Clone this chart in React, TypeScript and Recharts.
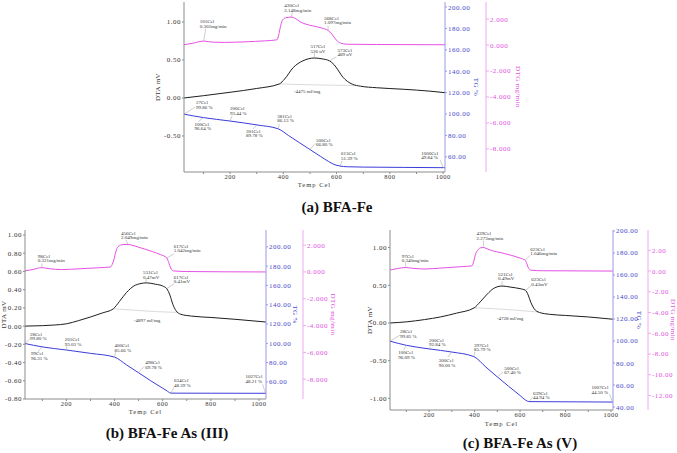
import { ComposedChart, Line, XAxis, YAxis, ReferenceDot, Label } from "recharts";

type Pt = [number, number];
type Note = { s: "dta" | "dtg" | "tg"; t: number; v: number; text: string[] };

// (a) BFA-Fe
const feDta: Pt[] = [[27, 0], [100, 0.03], [200, 0.075], [300, 0.125], [385, 0.185], [405, 0.25], [437, 0.4], [474, 0.49], [517, 0.526], [545, 0.515], [573, 0.489], [590, 0.44], [605, 0.37], [620, 0.29], [640, 0.22], [660, 0.18], [690, 0.155], [750, 0.135], [850, 0.115], [950, 0.09], [1007, 0.07]];
const feBase: Pt[] = [[385, 0.185], [480, 0.175], [580, 0.168], [675, 0.165]];
const feDtg: Pt[] = [[27, 0.02], [60, 0.14], [101, 0.302], [135, 0.22], [180, 0.2], [260, 0.25], [330, 0.32], [376, 0.4], [383, 0.8], [390, 1.5], [398, 1.95], [410, 2.1], [430, 2.148], [445, 2.05], [463, 1.79], [485, 1.6], [513, 1.46], [545, 1.3], [568, 1.12], [582, 0.85], [598, 0.4], [615, 0.15], [640, 0.06], [750, 0.04], [1007, 0.02]];
const feTg: Pt[] = [[27, 99.86], [100, 96.64], [200, 93.44], [301, 89.78], [381, 86.13], [420, 79.8], [460, 73.3], [500, 66.8], [540, 60.3], [570, 55.6], [590, 52.9], [613, 51.39], [640, 50.7], [700, 50.4], [850, 50.1], [1000, 49.84], [1007, 49.82]];
const feNotes: Note[] = [
  { s: "dtg", t: 101, v: 0.302, text: ["101Cel", "0.302mg/min"] },
  { s: "dtg", t: 430, v: 2.148, text: ["430Cel", "2.148mg/min"] },
  { s: "dtg", t: 568, v: 1.097, text: ["568Cel", "1.097mg/min"] },
  { s: "dta", t: 517, v: 0.526, text: ["517Cel", "526 uV"] },
  { s: "dta", t: 573, v: 0.489, text: ["573Cel", "489 uV"] },
  { s: "tg", t: 27, v: 99.86, text: ["27Cel", "99.86 %"] },
  { s: "tg", t: 100, v: 96.64, text: ["100Cel", "96.64 %"] },
  { s: "tg", t: 200, v: 93.44, text: ["200Cel", "93.44 %"] },
  { s: "tg", t: 301, v: 89.78, text: ["301Cel", "89.78 %"] },
  { s: "tg", t: 381, v: 86.13, text: ["381Cel", "86.13 %"] },
  { s: "tg", t: 500, v: 66.8, text: ["500Cel", "66.80 %"] },
  { s: "tg", t: 613, v: 51.39, text: ["613Cel", "51.39 %"] },
  { s: "tg", t: 1000, v: 49.84, text: ["1000Cel", "49.84 %"] },
];
const feEnergy = "-4475 mJ/mg";

// (b) BFA-Fe As (III)
const as3Dta: Pt[] = [[28, 0], [100, 0.005], [150, 0.012], [200, 0.025], [250, 0.06], [300, 0.1], [350, 0.145], [395, 0.19], [420, 0.27], [450, 0.37], [480, 0.44], [510, 0.468], [531, 0.475], [570, 0.46], [600, 0.44], [617, 0.41], [630, 0.34], [642, 0.24], [655, 0.17], [675, 0.13], [720, 0.11], [800, 0.095], [900, 0.075], [1029, 0.045]];
const as3Base: Pt[] = [[395, 0.19], [480, 0.175], [580, 0.158], [665, 0.15]];
const as3Dtg: Pt[] = [[28, 0.08], [60, 0.18], [98, 0.321], [130, 0.24], [180, 0.18], [260, 0.24], [330, 0.31], [383, 0.37], [390, 0.55], [397, 0.9], [405, 1.5], [415, 1.9], [435, 2.04], [456, 2.049], [480, 1.96], [501, 1.84], [530, 1.68], [557, 1.52], [590, 1.3], [617, 1.042], [625, 0.7], [633, 0.3], [645, 0.08], [700, 0.03], [1029, 0]];
const as3Tg: Pt[] = [[28, 99.8], [99, 96.31], [201, 93.03], [300, 89.6], [400, 85.66], [450, 77.6], [498, 69.78], [550, 61.2], [600, 53.5], [620, 50.3], [634, 48.39], [660, 48.35], [800, 48.3], [1029, 48.21]];
const as3Notes: Note[] = [
  { s: "dtg", t: 98, v: 0.321, text: ["98Cel", "0.321mg/min"] },
  { s: "dtg", t: 456, v: 2.049, text: ["456Cel", "2.049mg/min"] },
  { s: "dtg", t: 617, v: 1.042, text: ["617Cel", "1.042mg/min"] },
  { s: "dta", t: 531, v: 0.47, text: ["531Cel", "0.47mV"] },
  { s: "dta", t: 617, v: 0.41, text: ["617Cel", "0.41mV"] },
  { s: "tg", t: 28, v: 99.8, text: ["28Cel", "99.80 %"] },
  { s: "tg", t: 99, v: 96.31, text: ["99Cel", "96.31 %"] },
  { s: "tg", t: 201, v: 93.03, text: ["201Cel", "93.03 %"] },
  { s: "tg", t: 400, v: 85.66, text: ["400Cel", "85.66 %"] },
  { s: "tg", t: 498, v: 69.78, text: ["498Cel", "69.78 %"] },
  { s: "tg", t: 634, v: 48.39, text: ["634Cel", "48.39 %"] },
  { s: "tg", t: 1027, v: 48.21, text: ["1027Cel", "48.21 %"] },
];
const as3Energy = "-4897 mJ/mg";

// (c) BFA-Fe As (V)
const as5Dta: Pt[] = [[28, 0], [100, 0.015], [180, 0.045], [250, 0.08], [320, 0.13], [398, 0.2], [425, 0.28], [455, 0.38], [485, 0.46], [521, 0.49], [560, 0.475], [600, 0.455], [623, 0.435], [636, 0.37], [648, 0.27], [662, 0.19], [685, 0.14], [730, 0.115], [800, 0.1], [900, 0.08], [1008, 0.05]];
const as5Base: Pt[] = [[398, 0.2], [480, 0.19], [580, 0.17], [680, 0.145]];
const as5Dtg: Pt[] = [[28, 0.1], [60, 0.24], [97, 0.34], [130, 0.26], [182, 0.2], [260, 0.3], [340, 0.42], [389, 0.5], [396, 0.9], [404, 1.6], [415, 2.05], [428, 2.25], [439, 2.273], [455, 2.15], [475, 1.98], [500, 1.85], [530, 1.7], [564, 1.5], [600, 1.25], [623, 1.046], [630, 0.7], [637, 0.3], [648, 0.08], [700, 0.03], [1008, 0]];
const as5Tg: Pt[] = [[28, 99.85], [100, 96.09], [200, 92.84], [300, 90.0], [397, 85.79], [450, 76.3], [500, 67.4], [550, 58.8], [600, 50.5], [625, 46.2], [639, 44.94], [700, 44.85], [850, 44.7], [1008, 44.5]];
const as5Notes: Note[] = [
  { s: "dtg", t: 97, v: 0.34, text: ["97Cel", "0.340mg/min"] },
  { s: "dtg", t: 439, v: 2.273, text: ["439Cel", "2.273mg/min"] },
  { s: "dtg", t: 623, v: 1.046, text: ["623Cel", "1.046mg/min"] },
  { s: "dta", t: 521, v: 0.49, text: ["521Cel", "0.49mV"] },
  { s: "dta", t: 623, v: 0.43, text: ["623Cel", "0.43mV"] },
  { s: "tg", t: 28, v: 99.85, text: ["28Cel", "99.85 %"] },
  { s: "tg", t: 100, v: 96.09, text: ["100Cel", "96.09 %"] },
  { s: "tg", t: 200, v: 92.84, text: ["200Cel", "92.84 %"] },
  { s: "tg", t: 300, v: 90.0, text: ["300Cel", "90.00 %"] },
  { s: "tg", t: 397, v: 85.79, text: ["397Cel", "85.79 %"] },
  { s: "tg", t: 500, v: 67.4, text: ["500Cel", "67.40 %"] },
  { s: "tg", t: 639, v: 44.94, text: ["639Cel", "44.94 %"] },
  { s: "tg", t: 1007, v: 44.5, text: ["1007Cel", "44.50 %"] },
];
const as5Energy = "-4728 mJ/mg";

const xTicks = [100, 200, 300, 400, 500, 600, 700, 800, 900, 1000];

const SERIF = "'Liberation Serif', 'Times New Roman', serif";
const DTA_C = "#1e1e1e";
const TG_C = "#3c3cdc";
const DTG_C = "#e650e6";

// axis ids: the order matters for which right axis sits next to the plot
const AX = { dta: "a_dta", tg: "b_tg", dtg: "c_dtg" };

const rows = (pts: Pt[]) => pts.map(([t, v]) => ({ t, v }));

// text offset [dx, dy] and leader end [lx, ly] relative to the marked point
const noteShape = (text: string[], o: number[]) => (p: any) => {
  const x = p.cx + o[0];
  const y = p.cy + o[1];
  return (
    <g>
      <line x1={p.cx} y1={p.cy} x2={p.cx + o[2]} y2={p.cy + o[3]} stroke="#9a9a9a" strokeWidth={0.5} />
      <text x={x} y={y} fontSize={5} fontFamily={SERIF} fill="#333">
        {text.map((s, i) => (
          <tspan key={i} x={x} dy={i ? 4.5 : 0}>{s}</tspan>
        ))}
      </text>
    </g>
  );
};

const yTitle = (text: string, angle: number, dx: number, color: string) => (props: any) => {
  const vb = props.viewBox || { x: 0, y: 0, width: 0, height: 0 };
  const x = vb.x + vb.width / 2 + dx;
  const y = vb.y + vb.height / 2;
  return (
    <text x={x} y={y} transform={`rotate(${angle} ${x} ${y})`} textAnchor="middle" dominantBaseline="central"
      fontSize={7} fontFamily={SERIF} fill={color} letterSpacing={0.4}>{text}</text>
  );
};

const xTitle = (dy: number) => (props: any) => {
  const vb = props.viewBox || { x: 0, y: 0, width: 0, height: 0 };
  return (
    <text x={vb.x + vb.width / 2} y={vb.y + dy} textAnchor="middle" dominantBaseline="central"
      fontSize={6.5} fontFamily={SERIF} fill="#333" letterSpacing={1}>Temp Cel</text>
  );
};

const tickStyle = (fill: string, size = 7) => ({ fontSize: size, fill, fontFamily: SERIF, letterSpacing: 0.5 });

interface PanelProps {
  left: number; top: number; width: number; height: number;
  axisW: [number, number, number];
  xDomain: [number, number];
  dtaDomain: [number, number]; dtaTicks: number[];
  tgDomain: [number, number]; tgTicks: number[];
  dtgDomain: [number, number]; dtgTicks: number[]; dtgDigits: number;
  dta: Pt[]; base: Pt[]; dtg: Pt[]; tg: Pt[];
  notes: Note[]; offs: number[][];
  energy: string; energyAt: Pt;
  titleDx: [number, number, number]; xTitleDy: number;
}

function Panel(p: PanelProps) {
  return (
    <div style={{ position: "absolute", left: p.left, top: p.top }}>
      <ComposedChart width={p.width} height={p.height} margin={{ top: 2, right: 0, bottom: 0, left: 0 }}>
        <XAxis type="number" dataKey="t" domain={p.xDomain} ticks={xTicks} interval={0} allowDataOverflow
          tickFormatter={(v: number) => (v % 200 === 0 ? String(v) : "")}
          height={18} stroke="#8c8c8c" tickSize={2} tickMargin={0} tick={tickStyle("#333", 6.5)}>
          <Label content={xTitle(p.xTitleDy)} />
        </XAxis>
        <YAxis yAxisId={AX.dta} orientation="left" width={p.axisW[0]} domain={p.dtaDomain} ticks={p.dtaTicks} interval={0}
          allowDataOverflow tickFormatter={(v: number) => v.toFixed(2)} stroke="#8c8c8c" tickSize={2} tickMargin={1}
          tick={tickStyle("#333")}>
          <Label content={yTitle("DTA mV", -90, p.titleDx[0], "#333")} />
        </YAxis>
        <YAxis yAxisId={AX.tg} orientation="right" width={p.axisW[1]} domain={p.tgDomain} ticks={p.tgTicks} interval={0}
          allowDataOverflow tickFormatter={(v: number) => v.toFixed(2)} stroke="#9a9ae8" tickSize={2} tickMargin={1}
          tick={tickStyle("#4646c8")}>
          <Label content={yTitle("TG %", 90, p.titleDx[1], "#4646c8")} />
        </YAxis>
        <YAxis yAxisId={AX.dtg} orientation="right" width={p.axisW[2]} domain={p.dtgDomain} ticks={p.dtgTicks} interval={0}
          allowDataOverflow tickFormatter={(v: number) => v.toFixed(p.dtgDigits)} stroke="#f0a8f0" tickSize={3} tickMargin={1}
          tick={tickStyle("#e050e0")}>
          <Label content={yTitle("DTG mg/min", 90, p.titleDx[2], "#e050e0")} />
        </YAxis>
        <Line yAxisId={AX.dta} data={rows(p.base)} dataKey="v" type="monotone" dot={false} stroke="#d0d0d0" strokeWidth={0.8} isAnimationActive={false} />
        <Line yAxisId={AX.dtg} data={rows(p.dtg)} dataKey="v" type="monotone" dot={false} stroke={DTG_C} strokeWidth={1} isAnimationActive={false} />
        <Line yAxisId={AX.dta} data={rows(p.dta)} dataKey="v" type="monotone" dot={false} stroke={DTA_C} strokeWidth={1} isAnimationActive={false} />
        <Line yAxisId={AX.tg} data={rows(p.tg)} dataKey="v" type="monotone" dot={false} stroke={TG_C} strokeWidth={1} isAnimationActive={false} />
        {p.notes.map((n, i) => (
          <ReferenceDot key={i} x={n.t} y={n.v} yAxisId={AX[n.s]} r={0} ifOverflow="visible" shape={noteShape(n.text, p.offs[i])} />
        ))}
        <ReferenceDot x={p.energyAt[0]} y={p.energyAt[1]} yAxisId={AX.dta} r={0} ifOverflow="visible"
          shape={(q: any) => (
            <text x={q.cx} y={q.cy} textAnchor="middle" dominantBaseline="central" fontSize={5} fontFamily={SERIF} fill="#333">{p.energy}</text>
          )} />
      </ComposedChart>
    </div>
  );
}

const titleStyle = (left: number, top: number) => ({
  position: "absolute" as const, left, top, width: 300, marginLeft: -150, textAlign: "center" as const,
  fontFamily: SERIF, fontWeight: 700, fontSize: 15, lineHeight: "15px", color: "#111",
});

export default function App() {
  return (
    <div style={{ position: "absolute", left: 0, top: 0, width: 677, height: 453, background: "#fff", overflow: "hidden" }}>
      <Panel left={140} top={0} width={391} height={190} axisW={[44, 41, 45]} xDomain={[27, 1007]}
        dtaDomain={[-0.974, 1.263]} dtaTicks={[-0.5, 0, 0.5, 1]}
        tgDomain={[45.8, 204.7]} tgTicks={[60, 80, 100, 120, 140, 160, 180, 200]}
        dtgDomain={[-9.77, 3.31]} dtgTicks={[-8, -6, -4, -2, 0, 2]} dtgDigits={3}
        dta={feDta} base={feBase} dtg={feDtg} tg={feTg} notes={feNotes}
        offs={[[-4, -18, 2, -12.5], [-7, -10, 1, -4.5], [-4, -11, 0, -5], [-4, -10, 0, -4.5], [8, -9, 7, -4],
          [12, -10, 11, -7], [-9, 8, -5, 4], [0, -11, 2, -5], [-11, 8, -4, 4], [-1, -11, 1, -5], [6, -8, 5, -6], [1, -11, 2, -5], [-22, -13, -3, -8]]}
        energy={feEnergy} energyAt={[489, 0.08]} titleDx={[-4, 10, 9]} xTitleDy={12} />
      <Panel left={0} top={228} width={340} height={189} axisW={[25, 37, 37]} xDomain={[28, 1029]}
        dtaDomain={[-0.8, 1.055]} dtaTicks={[-0.8, -0.6, -0.4, -0.2, 0, 0.2, 0.4, 0.6, 0.8, 1]}
        tgDomain={[42.3, 217.4]} tgTicks={[60, 80, 100, 120, 140, 160, 180, 200]}
        dtgDomain={[-9.48, 3.13]} dtgTicks={[-8, -6, -4, -2, 0, 2]} dtgDigits={3}
        dta={as3Dta} base={as3Base} dtg={as3Dtg} tg={as3Tg} notes={as3Notes}
        offs={[[-4, -10, 0, -4], [-7, -9.5, -2, -4.5], [7, -10, 7, -4], [-3, -9, 0, -4.5], [7, -10, 7, -5],
          [5, -8, 5, -5], [-11, 8.5, -4, 5], [-2, -9, 0, -4], [0, -10, 1, -5], [7, -8, 6, -6], [3, -11, 3, -6], [-20, -15, -3, -9]]}
        energy={as3Energy} energyAt={[535, 0.066]} titleDx={[-9, 10, 11]} xTitleDy={12} />
      <Panel left={360} top={228} width={317} height={200} axisW={[30, 35, 29]} xDomain={[28, 1009]}
        dtaDomain={[-1.154, 1.233]} dtaTicks={[-1, -0.5, 0, 0.5, 1]}
        tgDomain={[37.3, 200.9]} tgTicks={[40, 60, 80, 100, 120, 140, 160, 180, 200]}
        dtgDomain={[-13.4, 3.96]} dtgTicks={[-12, -10, -8, -6, -4, -2, 0, 2]} dtgDigits={2}
        dta={as5Dta} base={as5Base} dtg={as5Dtg} tg={as5Tg} notes={as5Notes}
        offs={[[-4, -10, 0, -5], [-7, -12, 0, -7], [5, -9.5, 5, -5], [-4, -10.5, 0, -5], [6, -9.5, 6, -5],
          [10, -8, 10, -6], [-8, 9, -3, 5], [0, -7, 1, -2], [-13, 10, -4, 5], [0, -10, 1, -5], [7, -7, 6, -5], [4, -7, 4, -5], [-21, -13, -3, -8]]}
        energy={as5Energy} energyAt={[556, 0.066]} titleDx={[-5, 8, 10]} xTitleDy={13} />
      <div style={titleStyle(337, 200)}>(a) BFA-Fe</div>
      <div style={titleStyle(167, 426)}>(b) BFA-Fe As (III)</div>
      <div style={titleStyle(520, 436)}>(c) BFA-Fe As (V)</div>
    </div>
  );
}
